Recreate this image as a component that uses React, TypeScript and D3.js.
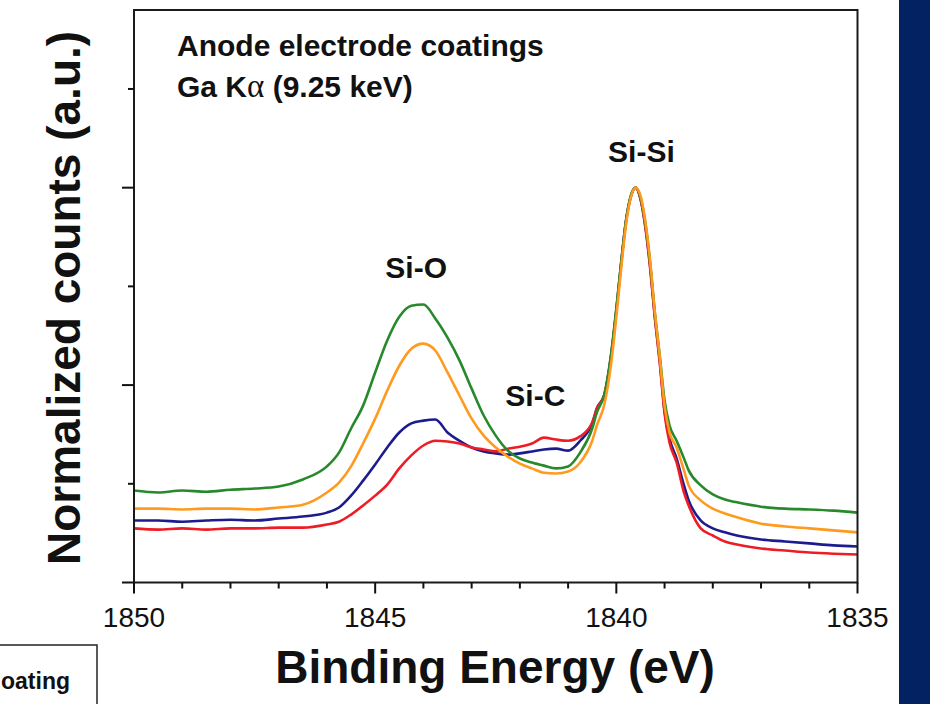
import { useEffect, useRef } from 'react';
import * as d3 from 'd3';

// binding energy grid (eV), high -> low as plotted left -> right
const energy = [
  1850, 1849.5, 1849, 1848.5, 1848, 1847.5, 1847, 1846.5, 1846,
  1845.75, 1845.5, 1845.25, 1845, 1844.75, 1844.5, 1844.25, 1844, 1843.75, 1843.5, 1843.25,
  1843, 1842.75, 1842.5, 1842.25, 1842, 1841.75, 1841.5, 1841.25, 1841, 1840.75, 1840.5, 1840.4, 1840.25,
  1840.1, 1840, 1839.9, 1839.8, 1839.7, 1839.6, 1839.5, 1839.4, 1839.3, 1839.2, 1839.1,
  1839, 1838.9, 1838.75, 1838.6, 1838.5, 1838.25, 1838, 1837.75, 1837.5,
  1837, 1836.5, 1836, 1835.5, 1835,
];

const greenCounts = [
  0.233, 0.228, 0.233, 0.230, 0.235, 0.238, 0.243, 0.261, 0.294,
  0.329, 0.390, 0.448, 0.532, 0.613, 0.673, 0.701, 0.704, 0.668, 0.620, 0.562,
  0.491, 0.423, 0.372, 0.334, 0.314, 0.304, 0.296, 0.289, 0.294, 0.329, 0.390, 0.432, 0.475,
  0.587, 0.694, 0.810, 0.916, 0.980, 1.000, 0.975, 0.911, 0.810, 0.681, 0.575,
  0.461, 0.399, 0.359, 0.315, 0.284, 0.246, 0.223, 0.210, 0.203,
  0.192, 0.187, 0.185, 0.182, 0.177,
];

const orangeCounts = [
  0.187, 0.187, 0.185, 0.187, 0.187, 0.185, 0.190, 0.197, 0.228,
  0.253, 0.294, 0.352, 0.415, 0.486, 0.549, 0.592, 0.605, 0.587, 0.532, 0.473,
  0.415, 0.372, 0.342, 0.319, 0.301, 0.289, 0.278, 0.276, 0.281, 0.304, 0.359, 0.399, 0.450,
  0.562, 0.673, 0.795, 0.906, 0.975, 1.000, 0.980, 0.916, 0.815, 0.684, 0.572,
  0.448, 0.381, 0.342, 0.285, 0.246, 0.208, 0.187, 0.175, 0.165,
  0.149, 0.142, 0.137, 0.132, 0.127,
];

const blueCounts = [
  0.157, 0.157, 0.154, 0.157, 0.159, 0.157, 0.162, 0.167, 0.177,
  0.190, 0.220, 0.258, 0.299, 0.342, 0.380, 0.403, 0.410, 0.413, 0.380, 0.359,
  0.342, 0.332, 0.327, 0.324, 0.327, 0.332, 0.337, 0.339, 0.334, 0.359, 0.403, 0.442, 0.475,
  0.582, 0.689, 0.808, 0.916, 0.977, 1.000, 0.972, 0.904, 0.803, 0.673, 0.562,
  0.435, 0.366, 0.314, 0.247, 0.208, 0.157, 0.137, 0.127, 0.119,
  0.109, 0.104, 0.099, 0.094, 0.091,
];

const redCounts = [
  0.137, 0.134, 0.137, 0.134, 0.137, 0.137, 0.139, 0.139, 0.147,
  0.154, 0.172, 0.195, 0.220, 0.248, 0.289, 0.322, 0.347, 0.359, 0.357, 0.352,
  0.342, 0.337, 0.332, 0.339, 0.344, 0.352, 0.367, 0.362, 0.359, 0.370, 0.405, 0.442, 0.475,
  0.582, 0.689, 0.808, 0.914, 0.977, 1.000, 0.972, 0.901, 0.797, 0.668, 0.557,
  0.428, 0.356, 0.304, 0.229, 0.195, 0.137, 0.119, 0.104, 0.096,
  0.086, 0.081, 0.076, 0.073, 0.071,
];

const series = [
  { name: 'blue', color: '#1c1c8e', values: blueCounts },
  { name: 'red', color: '#ee1c24', values: redCounts },
  { name: 'green', color: '#27892b', values: greenCounts },
  { name: 'orange', color: '#ff9a1e', values: orangeCounts },
];

const xMajorTicks = [1850, 1845, 1840, 1835];
const xMinorTicks = [1849, 1848, 1847, 1846, 1844, 1843, 1842, 1841, 1839, 1838, 1837, 1836];
const yMajorTicks = [0, 0.5, 1.0];
const yMinorTicks = [0.25, 0.75, 1.25];

const peakLabels = [
  { text: 'Si-O', e: 1844.15, c: 0.771 },
  { text: 'Si-C', e: 1841.68, c: 0.447 },
  { text: 'Si-Si', e: 1839.48, c: 1.065 },
];

const FONT = '"Liberation Sans", Arial, Helvetica, sans-serif';

const App = () => {
  const svgRef = useRef(null);

  useEffect(() => {
    const width = 930;
    const height = 704;
    const left = 134, right = 857.5, top = 10, bottom = 582.5;

    d3.select(svgRef.current).selectAll('*').remove();
    const svg = d3.select(svgRef.current)
      .attr('width', width)
      .attr('height', height)
      .style('font-family', FONT);

    svg.append('rect').attr('width', width).attr('height', height).attr('fill', '#ffffff');

    // navy band on the right edge of the slide
    svg.append('rect')
      .attr('x', 899).attr('y', 0)
      .attr('width', width - 899).attr('height', height)
      .attr('fill', '#022262');

    const x = d3.scaleLinear().domain([1850, 1835]).range([left, right]);
    const y = d3.scaleLinear().domain([0, 1.45]).range([bottom, top]);

    // curves
    const line = d3.line()
      .x((d) => x(d[0]))
      .y((d) => y(d[1]))
      .curve(d3.curveMonotoneX);

    series.forEach((s) => {
      svg.append('path')
        .datum(energy.map((e, i) => [e, s.values[i]]))
        .attr('fill', 'none')
        .attr('stroke', s.color)
        .attr('stroke-width', 2.6)
        .attr('stroke-linejoin', 'round')
        .attr('d', line);
    });

    // frame
    svg.append('rect')
      .attr('x', left).attr('y', top)
      .attr('width', right - left).attr('height', bottom - top)
      .attr('fill', 'none')
      .attr('stroke', '#1a1a1a')
      .attr('stroke-width', 2);

    // x axis ticks (outward)
    const xAxis = svg.append('g');
    xMajorTicks.forEach((t) => {
      xAxis.append('line')
        .attr('x1', x(t)).attr('x2', x(t))
        .attr('y1', bottom).attr('y2', bottom + 11)
        .attr('stroke', '#111').attr('stroke-width', 2);
      xAxis.append('text')
        .attr('x', x(t)).attr('y', 627)
        .attr('text-anchor', 'middle')
        .attr('font-size', 28)
        .attr('fill', '#111')
        .text(t);
    });
    xMinorTicks.forEach((t) => {
      xAxis.append('line')
        .attr('x1', x(t)).attr('x2', x(t))
        .attr('y1', bottom).attr('y2', bottom + 6)
        .attr('stroke', '#111').attr('stroke-width', 2);
    });

    // y axis ticks (outward, no labels)
    const yAxis = svg.append('g');
    yMajorTicks.forEach((t) => {
      yAxis.append('line')
        .attr('x1', left - 12).attr('x2', left)
        .attr('y1', y(t)).attr('y2', y(t))
        .attr('stroke', '#111').attr('stroke-width', 2);
    });
    yMinorTicks.forEach((t) => {
      yAxis.append('line')
        .attr('x1', left - 6).attr('x2', left)
        .attr('y1', y(t)).attr('y2', y(t))
        .attr('stroke', '#111').attr('stroke-width', 2);
    });

    // axis titles
    svg.append('text')
      .attr('x', 495).attr('y', 683)
      .attr('text-anchor', 'middle')
      .attr('font-size', 46)
      .attr('font-weight', 'bold')
      .attr('fill', '#111')
      .text('Binding Energy (eV)');

    svg.append('text')
      .attr('transform', 'translate(80,298) rotate(-90)')
      .attr('text-anchor', 'middle')
      .attr('font-size', 46)
      .attr('font-weight', 'bold')
      .attr('fill', '#111')
      .text('Normalized counts (a.u.)');

    // annotation
    svg.append('text')
      .attr('x', 177).attr('y', 56)
      .attr('font-size', 30)
      .attr('font-weight', 'bold')
      .attr('fill', '#111')
      .text('Anode electrode coatings');

    const ga = svg.append('text')
      .attr('x', 177).attr('y', 97)
      .attr('font-size', 30)
      .attr('font-weight', 'bold')
      .attr('fill', '#111');
    ga.append('tspan').text('Ga K');
    ga.append('tspan')
      .attr('font-family', '"Liberation Serif", "DejaVu Serif", serif')
      .attr('font-weight', 'normal')
      .attr('font-size', 33)
      .text('\u03b1');
    ga.append('tspan').text(' (9.25 keV)');

    peakLabels.forEach((p) => {
      svg.append('text')
        .attr('x', x(p.e)).attr('y', y(p.c))
        .attr('text-anchor', 'middle')
        .attr('font-size', 30)
        .attr('font-weight', 'bold')
        .attr('fill', '#111')
        .text(p.text);
    });

    // legend box cut by the left edge of the slide; only its tail shows
    svg.append('rect')
      .attr('x', -10).attr('y', 645)
      .attr('width', 107).attr('height', 80)
      .attr('fill', '#ffffff')
      .attr('stroke', '#222')
      .attr('stroke-width', 1.5);
    svg.append('text')
      .attr('x', 1).attr('y', 689)
      .attr('font-size', 23)
      .attr('font-weight', 'bold')
      .attr('fill', '#111')
      .text('oating');
  }, []);

  return (
    <div style={{ position: 'fixed', left: 0, top: 0 }}>
      <svg ref={svgRef}></svg>
    </div>
  );
};

export default App;
